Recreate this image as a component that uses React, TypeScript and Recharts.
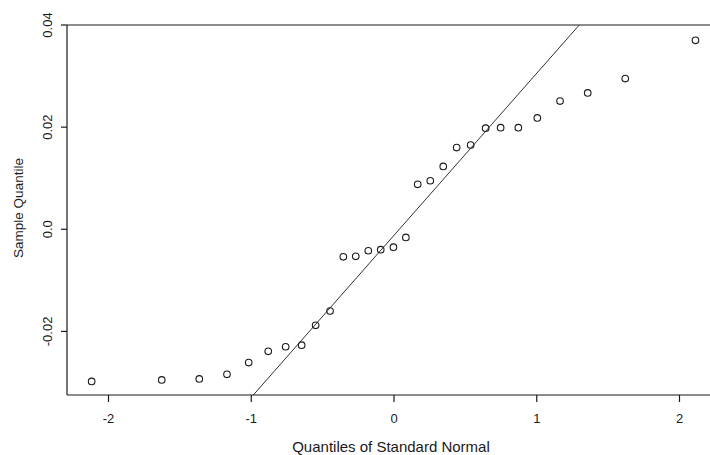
import React from 'react';
import {
  ScatterChart,
  Scatter,
  XAxis,
  YAxis,
  ReferenceLine,
  Label,
} from 'recharts';

// Theoretical quantiles (standard normal) for each sample point
const normalQuantiles = [
  -2.118, -1.627, -1.364, -1.17, -1.018, -0.881, -0.759, -0.647, -0.549, -0.448,
  -0.355, -0.268, -0.18, -0.093, -0.004, 0.083, 0.166, 0.254, 0.345, 0.439,
  0.537, 0.642, 0.747, 0.871, 1.004, 1.163, 1.357, 1.62, 2.112,
];

// Ordered sample values
const sampleQuantiles = [
  -0.0298, -0.0295, -0.0293, -0.0284, -0.0261, -0.0239, -0.023, -0.0227, -0.0188, -0.016,
  -0.0054, -0.0053, -0.0042, -0.004, -0.0035, -0.0016, 0.0088, 0.0095, 0.0123, 0.016,
  0.0165, 0.0198, 0.0199, 0.0199, 0.0218, 0.0251, 0.0267, 0.0295, 0.037,
];

const xTicks = [-2, -1, 0, 1, 2];
const yTicks = [-0.02, 0, 0.02, 0.04];
const yTickLabels = ['-0.02', '0.0', '0.02', '0.04'];

// Reference line through the quartiles
const qqSlope = 0.03173;
const qqIntercept = -0.00118;

const X_DOMAIN: [number, number] = [-2.2907, 2.2487];
const Y_DOMAIN: [number, number] = [-0.03245, 0.04];

const points = normalQuantiles.map((x, i) => ({ x, y: sampleQuantiles[i] }));

const lineStart = { x: (Y_DOMAIN[0] - qqIntercept) / qqSlope, y: Y_DOMAIN[0] };
const lineEnd = { x: (Y_DOMAIN[1] - qqIntercept) / qqSlope, y: Y_DOMAIN[1] };

const FONT = '"Liberation Sans", Arial, sans-serif';
const INK = '#1a1a1a';

const XTick = (props: any) => {
  const { x, y, payload } = props;
  return (
    <text
      x={x}
      y={y + 19}
      textAnchor="middle"
      fontFamily={FONT}
      fontSize={13}
      fill={INK}
    >
      {payload.value}
    </text>
  );
};

const YTick = (props: any) => {
  const { y, payload } = props;
  const idx = yTicks.indexOf(payload.value);
  const label = idx >= 0 ? yTickLabels[idx] : String(payload.value);
  const tx = 52;
  return (
    <text
      x={tx}
      y={y}
      transform={`rotate(-90, ${tx}, ${y})`}
      textAnchor="middle"
      fontFamily={FONT}
      fontSize={13}
      fill={INK}
    >
      {label}
    </text>
  );
};

const Circle = (props: any) => {
  const { cx, cy } = props;
  return <circle cx={cx} cy={cy} r={3.3} fill="none" stroke={INK} strokeWidth={1.1} />;
};

export default function App() {
  return (
    <div
      style={{
        position: 'fixed',
        left: 0,
        top: 0,
        width: 710,
        height: 455,
        overflow: 'hidden',
        background: '#fff',
      }}
    >
      <ScatterChart
        width={760}
        height={455}
        margin={{ top: 25, right: 45, bottom: 0, left: 0 }}
      >
        <XAxis
          type="number"
          dataKey="x"
          domain={X_DOMAIN}
          ticks={xTicks}
          allowDataOverflow
          height={60}
          tickSize={7}
          tickMargin={2}
          stroke={INK}
          axisLine={{ stroke: INK, strokeWidth: 1.2 }}
          tickLine={{ stroke: INK, strokeWidth: 1.2 }}
          tick={<XTick />}
        >
          <Label
            content={(p: any) => {
              const vb = p.viewBox || {};
              const cx = (vb.x ?? 67) + (vb.width ?? 648) / 2;
              return (
                <text
                  x={cx}
                  y={451.5}
                  textAnchor="middle"
                  fontFamily={FONT}
                  fontSize={15}
                  fill={INK}
                >
                  Quantiles of Standard Normal
                </text>
              );
            }}
          />
        </XAxis>
        <YAxis
          type="number"
          dataKey="y"
          domain={Y_DOMAIN}
          ticks={yTicks}
          allowDataOverflow
          width={67}
          tickSize={6}
          stroke={INK}
          axisLine={{ stroke: INK, strokeWidth: 1.2 }}
          tickLine={{ stroke: INK, strokeWidth: 1.2 }}
          tick={<YTick />}
        >
          <Label
            content={() => (
              <text
                x={23}
                y={208}
                transform="rotate(-90, 23, 208)"
                textAnchor="middle"
                fontFamily={FONT}
                fontSize={13.5}
                fill={INK}
              >
                Sample Quantile
              </text>
            )}
          />
        </YAxis>
        {/* plot frame: top and right edges */}
        <ReferenceLine y={Y_DOMAIN[1]} stroke={INK} strokeWidth={1.2} />
        <ReferenceLine x={X_DOMAIN[1]} stroke={INK} strokeWidth={1.2} />
        <ReferenceLine
          segment={[lineStart, lineEnd]}
          stroke="#333"
          strokeWidth={1}
          ifOverflow="hidden"
        />
        <Scatter data={points} shape={<Circle />} isAnimationActive={false} />
      </ScatterChart>
    </div>
  );
}
